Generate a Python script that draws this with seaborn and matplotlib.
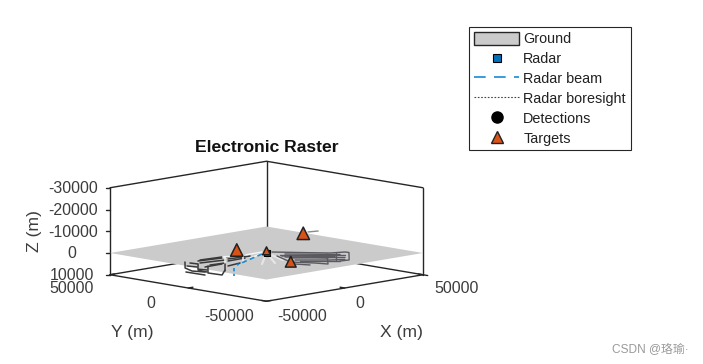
import numpy as np
import matplotlib
matplotlib.use('Agg')
import matplotlib.pyplot as plt
from matplotlib.lines import Line2D
from matplotlib.patches import Patch
import seaborn as sns

# ── Data (metres, world coordinates) ──────────────────────────────────────────
axis_min, axis_max = -50000, 50000
z_top, z_bottom = -30000, 10000
z_ticks = [-30000, -20000, -10000, 0, 10000]
xy_ticks = [-50000, 0, 50000]

targets_x = [-8000, 44750, -12800, 0]
targets_y = [11000, 21250, -28300, 0]
targets_z = [-1000, -1000, -1000, -1000]

radar_x = [0]
radar_y = [0]
radar_z = [0]

detections_x = [-8000, 44750, -12800, 0]
detections_y = [11000, 21250, -28300, 0]
detections_z = [-1000, -1000, -1000, -500]

# ground returns, dark strokes
dark_left = [
    ([-43000, -54300, -57800, -55500], [9100, -2300, -10200, -16200]),
    ([-43300, -42600, -52100, -51100], [5600, 1100, -8300, -13100]),
    ([-37000, -23700], [6800, 4800]),
    ([-40100, -26500], [2400, 0]),
    ([-43200, -56400, -55700, -45300], [-5800, -19000, -27300, -18800]),
    ([-40700, -32100, -47200], [-4600, -5600, -20700]),
    ([-20500, -10600], [5400, 3100]),
    ([-27400, -16300], [-2800, -2600]),
    ([-36800, -27300], [-12200, -10400]),
    ([-61600, -61200], [-10100, -21900]),
    ([-49900, -48600], [900, -4200]),
    ([-34500, -21800], [8000, 6700]),
    ([-46100, -35000], [-6800, -6500]),
    ([-23600, -10900], [1000, -400]),
    ([-54000, -54900], [-10200, -16800]),
]
dark_right = [
    ([3600, 11600, 20300, 27000, 27300, 13200, 8400], [100, -9800, -20300, -23200, -25400, -39600, -38600]),
    ([500, 10100, 21300], [-8100, -17700, -28900]),
    ([-1600, 7000, 10200], [-13500, -24000, -29100]),
    ([-4100, 7100, 12800], [-22300, -33500, -37300]),
    ([-9500, -3400, -1100, 17400], [-24500, -34400, -40400, -21200]),
    ([-2300, -11700, -8700], [-9000, -29900, -36500]),
    ([4000, 20700], [-7800, -26300]),
    ([-700, 15300], [-10600, -28500]),
    ([-1900, 16600], [-16900, -33600]),
    ([-4400, 8400], [-25800, -38600]),
    ([22200, 9000], [-22200, -35400]),
]
# ground returns, pale strokes
pale = [
    ([-21400, -10600, 400], [6400, 3100, 3300]),
    ([-20800, -32100], [5700, -5600]),
    ([-13200, -24500], [1800, -9500]),
    ([-14700, 1700], [-4200, 2000]),
]
fan = [
    ([0, -22200], [0, -19300]),
    ([0, -16200], [0, -21600]),
    ([0, -7900], [0, -18500]),
]
beam_a_x, beam_a_y, beam_a_z = [-3300, -32100], [-400, -13200], [0, 0]
beam_b_x, beam_b_y, beam_b_z = [-38800, -38800], [-17800, -17800], [0, 3700]
streak_x, streak_y, streak_z = [44700, 49800], [18200, 16800], [-2000, -2000]

legend_labels = ['Ground', 'Radar', 'Radar beam', 'Radar boresight', 'Detections', 'Targets']

# ── View ──────────────────────────────────────────────────────────────────────
CX, CY = 266.5, 253.0
KX, KY, KZ = 156.5 / 100000, 26.5 / 100000, 21.75 / 10000


def project(x, y, z=0):
    x, y, z = np.asarray(x, float), np.asarray(y, float), np.asarray(z, float)
    return CX + (x - y) * KX, CY - (x + y) * KY + z * KZ


sns.set_theme(style='white')
plt.rcParams['font.family'] = ['Liberation Sans', 'Noto Sans CJK SC']

DARK, ORANGE, BLUE, BEAM = '#262626', '#d95319', '#0072bd', '#1a8ad4'
TICK_TEXT = '#3c3c3c'

fig = plt.figure(figsize=(7.03, 3.64), dpi=100)
ax = fig.add_axes([0, 0, 1, 1])
ax.set_xlim(0, 703)
ax.set_ylim(364, 0)
ax.axis('off')


def line3d(x, y, z=0, color=DARK, lw=1.0, zorder=2, **kw):
    sx, sy = project(x, y, np.broadcast_to(z, np.shape(x)))
    sns.lineplot(x=sx, y=sy, sort=False, estimator=None, errorbar=None, color=color,
                 linewidth=lw, zorder=zorder, ax=ax, **kw)


lo, hi = axis_min, axis_max
# floor and back walls, the ground sheet hides what lies behind it
line3d([lo, lo, hi], [hi, lo, lo], z_bottom)
line3d([lo, hi, hi], [hi, hi, lo], z_bottom)
line3d([lo, hi, hi], [hi, hi, lo], z_top)
line3d([lo, lo], [hi, hi], [z_top, z_bottom])
line3d([hi, hi], [lo, lo], [z_top, z_bottom])
line3d([hi, hi], [hi, hi], [z_top, z_bottom])

# ticks
for t in z_ticks:
    sx, sy = project(lo, hi, t)
    ax.plot([sx - 4.5, sx], [sy, sy], color=DARK, lw=1, zorder=2)
for t in xy_ticks:
    line3d([t, t], [lo, lo + 3000], z_bottom)
    line3d([lo, lo + 3000], [t, t], z_bottom)
line3d([hi, hi], [lo, lo - 3000], z_bottom)

# ground
gx, gy = project([lo, hi, hi, lo], [lo, lo, hi, hi], 0)
ax.fill(gx, gy, color='#cbcbcb', lw=0, zorder=3)

for cx, cy in fan:
    line3d(cx, cy, 0, color='#e6e6e6', lw=1.6, zorder=4)
for cx, cy in dark_left:
    line3d(cx, cy, 0, color='#3a3a3a', lw=1.1, zorder=5)
for cx, cy in dark_right:
    line3d(cx, cy, 0, color='#5a5a60', lw=1.0, zorder=4)
for cx, cy in pale:
    line3d(cx, cy, 0, color='#f4f4f4', lw=1.1, zorder=5)

line3d(beam_a_x, beam_a_y, beam_a_z, color=BEAM, lw=1.2, zorder=6, linestyle=(0, (3, 2)))
line3d(beam_b_x, beam_b_y, beam_b_z, color=BEAM, lw=1.2, zorder=6, linestyle=(0, (2, 1.5)))
line3d(streak_x, streak_y, streak_z, color='#8a8a8a', lw=1, zorder=6)

rx, ry = project(radar_x, radar_y, radar_z)
sns.scatterplot(x=rx, y=ry, marker='s', s=22, color=BLUE, edgecolor='black', linewidth=0.8,
                zorder=7, ax=ax)
dx, dy = project(detections_x, detections_y, detections_z)
sns.scatterplot(x=dx, y=dy, marker='o', s=12, color='black', edgecolor='black', linewidth=0,
                zorder=7, ax=ax)
tx, ty = project(targets_x, targets_y, targets_z)
sns.scatterplot(x=tx, y=ty, marker='^', s=[80, 80, 60, 32], color=ORANGE, edgecolor='#222222',
                linewidth=1.1, zorder=8, ax=ax)

# ── Text ──────────────────────────────────────────────────────────────────────
for t in z_ticks:
    _, sy = project(lo, hi, t)
    x_right = 94 if t == 10000 else 98
    if t == 0:
        ax.text(72, sy + 0.5, '0', ha='center', va='center', fontsize=11.5, color=TICK_TEXT)
    else:
        ax.text(x_right, sy + 1, str(t), ha='right', va='center', fontsize=11.5, color=TICK_TEXT)

for txt, px, py in [('50000', 72, 288.5), ('0', 151, 303), ('-50000', 229, 316.5),
                    ('-50000', 302.5, 316.5), ('0', 360, 303), ('50000', 456.5, 288.5)]:
    ax.text(px, py, txt, ha='center', va='center', fontsize=11.5, color=TICK_TEXT)

ax.text(267, 147, 'Electronic Raster', ha='center', va='center', fontsize=12.6,
        fontweight='bold', color='#111111')
ax.text(132.5, 332, 'Y (m)', ha='center', va='center', fontsize=12.6, color=TICK_TEXT)
ax.text(401.5, 332, 'X (m)', ha='center', va='center', fontsize=12.6, color=TICK_TEXT)
ax.text(35, 231, 'Z (m)', ha='center', va='center', rotation=90, fontsize=12.6, color=TICK_TEXT)
ax.text(612, 349, 'CSDN @珞瑜·', ha='left', va='center', fontsize=8.6, color='#9a9a9a')

# ── Legend ────────────────────────────────────────────────────────────────────
handles = [
    Patch(facecolor='#cbcbcb', edgecolor=DARK, linewidth=1),
    Line2D([], [], ls='none', marker='s', ms=6, mfc=BLUE, mec='black', mew=0.8),
    Line2D([], [], color=BEAM, lw=1.2, ls=(0, (7, 5))),
    Line2D([], [], color='#444444', lw=0.8, ls=(0, (1.5, 1.5))),
    Line2D([], [], ls='none', marker='o', ms=8, mfc='black', mec='black'),
    Line2D([], [], ls='none', marker='^', ms=8.5, mfc=ORANGE, mec='#222222', mew=1),
]
leg = ax.legend(handles, legend_labels, loc='upper left', bbox_to_anchor=(469, 27.3),
                bbox_transform=ax.transData, prop={'size': 10.4}, frameon=True, fancybox=False,
                framealpha=1, edgecolor=DARK, handlelength=3.15, handleheight=1.0, handletextpad=0.28,
                borderpad=0.33, borderaxespad=0, labelspacing=0.375, labelcolor='#222222')
leg.get_frame().set_linewidth(0.8)

fig.savefig('out.png', dpi=100)
